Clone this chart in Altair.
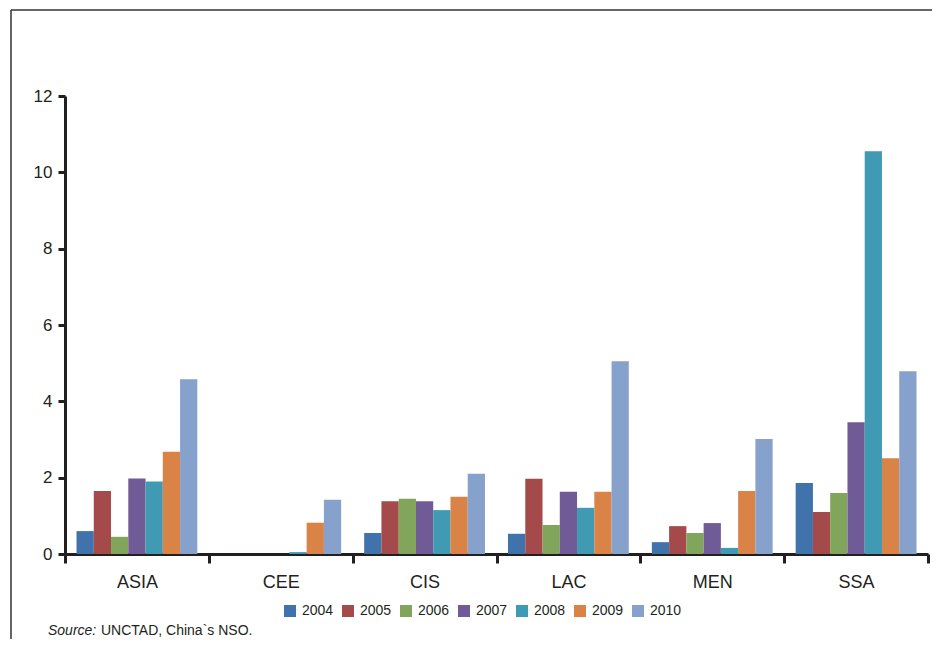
import altair as alt
import pandas as pd

regions = ["ASIA", "CEE", "CIS", "LAC", "MEN", "SSA"]
years = ["2004", "2005", "2006", "2007", "2008", "2009", "2010"]
v2004 = [0.60, 0.00, 0.55, 0.53, 0.31, 1.86]
v2005 = [1.65, 0.00, 1.38, 1.97, 0.73, 1.10]
v2006 = [0.45, 0.00, 1.45, 0.76, 0.55, 1.60]
v2007 = [1.98, 0.00, 1.38, 1.63, 0.81, 3.45]
v2008 = [1.90, 0.05, 1.15, 1.21, 0.16, 10.55]
v2009 = [2.68, 0.82, 1.50, 1.63, 1.65, 2.51]
v2010 = [4.58, 1.42, 2.10, 5.05, 3.01, 4.79]
colors = ["#4072AB", "#A54A4A", "#81A55B", "#715B96", "#409AB3", "#D98346", "#87A1CD"]
y_ticks = [0, 2, 4, 6, 8, 10, 12]
source_label = "Source:"
source_text = "UNCTAD, China`s NSO."

series = [v2004, v2005, v2006, v2007, v2008, v2009, v2010]
rows = []
for yr, vals in zip(years, series):
    for reg, v in zip(regions, vals):
        rows.append({"region": reg, "year": yr, "value": v})
df = pd.DataFrame(rows)

FONT = "Liberation Sans"
INK = "#231F20"

bars = alt.Chart(df).mark_bar(strokeWidth=0).encode(
    x=alt.X("region:N", sort=regions, title=None,
            scale=alt.Scale(paddingInner=0, paddingOuter=0),
            axis=alt.Axis(labelAngle=0, labelFontSize=18, labelFont=FONT, labelColor=INK,
                          domainColor=INK, domainWidth=3, tickColor=INK, tickWidth=3,
                          tickSize=9, tickBand="extent", labelPadding=10)),
    xOffset=alt.XOffset("year:N", sort=years,
                        scale=alt.Scale(paddingInner=0, paddingOuter=0.667)),
    y=alt.Y("value:Q", title=None,
            scale=alt.Scale(domain=[0, 12], nice=False),
            axis=alt.Axis(values=y_ticks, grid=False, labelFontSize=17, labelFont=FONT,
                          labelColor=INK, domainColor=INK, domainWidth=3, tickColor=INK,
                          tickWidth=3, tickSize=7, labelPadding=6)),
    color=alt.Color("year:N", sort=years,
                    scale=alt.Scale(domain=years, range=colors),
                    legend=alt.Legend(title=None, orient="none", direction="horizontal",
                                      legendX=218, legendY=508, symbolType="square",
                                      symbolSize=144, symbolStrokeWidth=0,
                                      labelFontSize=14, labelFont=FONT, labelColor=INK,
                                      labelOffset=5, columnPadding=7)),
)

one = pd.DataFrame({"k": [0]})
left_line = alt.Chart(one).mark_rule(color="#333333", strokeWidth=1.5).encode(
    x=alt.value(-54), y=alt.value(-86), y2=alt.value(560))
top_line = alt.Chart(one).mark_rule(color="#333333", strokeWidth=1.5).encode(
    x=alt.value(-54), x2=alt.value(880), y=alt.value(-86))

src1 = alt.Chart(pd.DataFrame({"t": [source_label]})).mark_text(
    align="left", baseline="alphabetic", fontSize=14, font=FONT, fontStyle="italic", color=INK
).encode(text="t:N", x=alt.value(-17), y=alt.value(539))
src2 = alt.Chart(pd.DataFrame({"t": [source_text]})).mark_text(
    align="left", baseline="alphabetic", fontSize=14, font=FONT, color=INK
).encode(text="t:N", x=alt.value(36), y=alt.value(539))

chart = alt.layer(bars, left_line, top_line, src1, src2).properties(
    width=863, height=458,
    autosize=alt.AutoSizeParams(type="none"),
    padding={"left": 57, "top": 88, "right": 4, "bottom": 85},
).configure_view(stroke=None)

chart.save("out.html", embed_options={"renderer": "svg", "actions": False})
